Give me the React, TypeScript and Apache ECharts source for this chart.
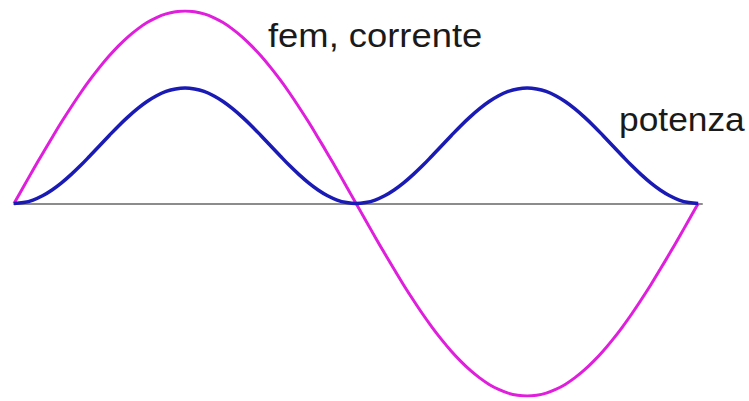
import React, { useEffect, useRef } from "react";
import * as echarts from "echarts";

const angles: number[] = [
  0, 5, 10, 15, 20, 25, 30, 35, 40, 45, 50, 55, 60, 65, 70, 75, 80, 85, 90,
  95, 100, 105, 110, 115, 120, 125, 130, 135, 140, 145, 150, 155, 160, 165, 170, 175, 180,
  185, 190, 195, 200, 205, 210, 215, 220, 225, 230, 235, 240, 245, 250, 255, 260, 265, 270,
  275, 280, 285, 290, 295, 300, 305, 310, 315, 320, 325, 330, 335, 340, 345, 350, 355, 360,
];

const femCorrente: number[] = [
  0, 0.087, 0.174, 0.259, 0.342, 0.423, 0.5, 0.574, 0.643, 0.707, 0.766, 0.819, 0.866, 0.906, 0.94, 0.966, 0.985, 0.996, 1,
  0.996, 0.985, 0.966, 0.94, 0.906, 0.866, 0.819, 0.766, 0.707, 0.643, 0.574, 0.5, 0.423, 0.342, 0.259, 0.174, 0.087, 0,
  -0.087, -0.174, -0.259, -0.342, -0.423, -0.5, -0.574, -0.643, -0.707, -0.766, -0.819, -0.866, -0.906, -0.94, -0.966, -0.985, -0.996, -1,
  -0.996, -0.985, -0.966, -0.94, -0.906, -0.866, -0.819, -0.766, -0.707, -0.643, -0.574, -0.5, -0.423, -0.342, -0.259, -0.174, -0.087, 0,
];

const potenza: number[] = [
  0, 0.005, 0.018, 0.04, 0.07, 0.107, 0.15, 0.197, 0.248, 0.3, 0.352, 0.403, 0.45, 0.493, 0.53, 0.56, 0.582, 0.595, 0.6,
  0.595, 0.582, 0.56, 0.53, 0.493, 0.45, 0.403, 0.352, 0.3, 0.248, 0.197, 0.15, 0.107, 0.07, 0.04, 0.018, 0.005, 0,
  0.005, 0.018, 0.04, 0.07, 0.107, 0.15, 0.197, 0.248, 0.3, 0.352, 0.403, 0.45, 0.493, 0.53, 0.56, 0.582, 0.595, 0.6,
  0.595, 0.582, 0.56, 0.53, 0.493, 0.45, 0.403, 0.352, 0.3, 0.248, 0.197, 0.15, 0.107, 0.07, 0.04, 0.018, 0.005, 0,
];

const labels: string[] = ["fem, corrente", "potenza"];

export default function App() {
  const ref = useRef<HTMLDivElement>(null);
  useEffect(() => {
    if (!ref.current) return;
    const chart = echarts.init(ref.current, null, { renderer: "svg" });
    const font = "'Liberation Sans', Arial, Helvetica, sans-serif";
    chart.setOption({
      animation: false,
      backgroundColor: "#ffffff",
      grid: { left: 14, right: 47, top: 11, bottom: 5 },
      xAxis: {
        type: "value",
        min: 0,
        max: 362,
        axisLine: { show: true, onZero: true, lineStyle: { color: "#8c8c8c", width: 2 } },
        axisTick: { show: false },
        axisLabel: { show: false },
        splitLine: { show: false },
      },
      yAxis: {
        type: "value",
        min: -1,
        max: 1,
        show: false,
        splitLine: { show: false },
      },
      series: [
        {
          type: "line",
          name: labels[0],
          data: angles.map((a, i) => [a, femCorrente[i]]),
          smooth: 0.4,
          showSymbol: false,
          lineStyle: { color: "#e01fdc", width: 3 },
          z: 2,
        },
        {
          type: "line",
          name: labels[1],
          data: angles.map((a, i) => [a, potenza[i]]),
          smooth: 0.4,
          showSymbol: false,
          lineStyle: { color: "#1a1ab4", width: 3.5 },
          z: 3,
        },
      ],
      graphic: [
        {
          type: "text",
          x: 268,
          y: 35,
          scaleX: 1.07,
          style: {
            text: labels[0],
            font: `34px ${font}`,
            fill: "#1a1a1a",
            verticalAlign: "middle",
            align: "left",
          },
        },
        {
          type: "text",
          x: 619,
          y: 119,
          scaleX: 1.04,
          style: {
            text: labels[1],
            font: `34px ${font}`,
            fill: "#1a1a1a",
            verticalAlign: "middle",
            align: "left",
          },
        },
      ],
    });
    return () => chart.dispose();
  }, []);
  return (
    <div
      ref={ref}
      style={{ position: "fixed", left: 0, top: 0, width: 749, height: 401 }}
    />
  );
}
